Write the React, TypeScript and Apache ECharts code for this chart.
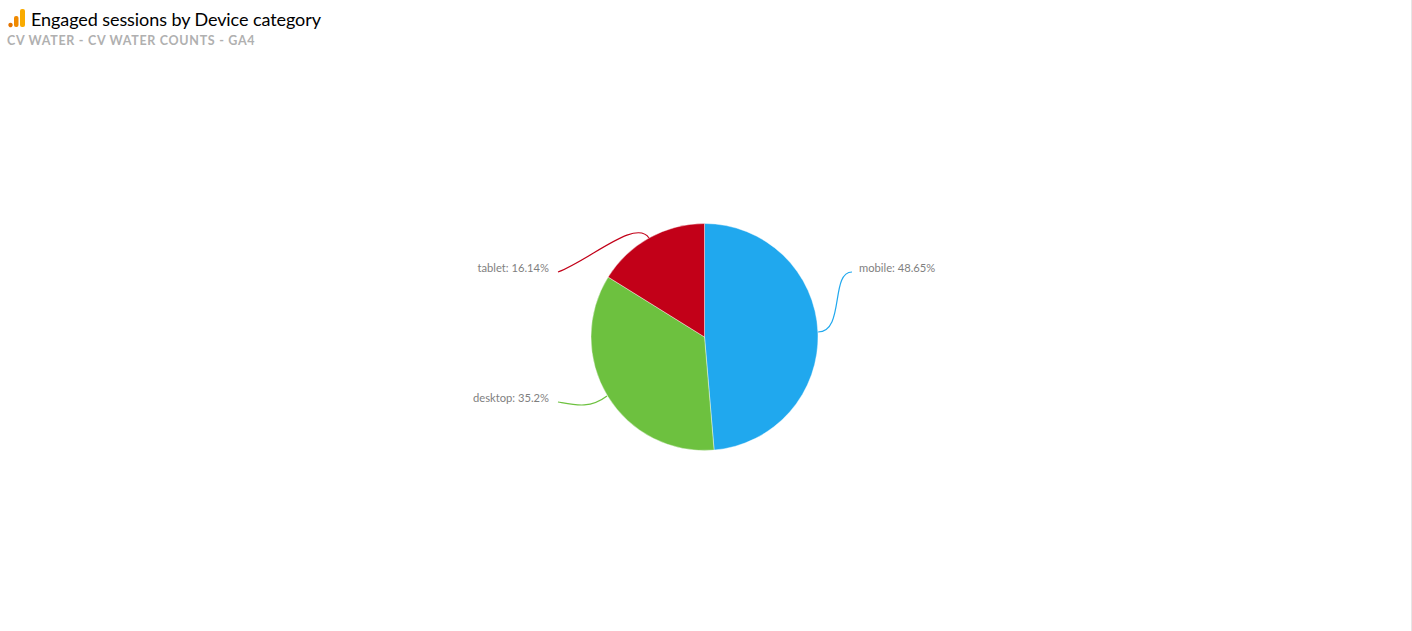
import React, { useEffect, useRef } from "react";
import * as echarts from "echarts";

const categories = ["mobile", "desktop", "tablet"];
const shares = [48.65, 35.2, 16.14];
const colors = ["#20a8ee", "#6dc13f", "#c20018"];
const titleText = "Engaged sessions by Device category";
const subtitleText = "CV WATER - CV WATER COUNTS - GA4";
const font = "Lato, 'Noto Sans', sans-serif";

const labelPlacement: Record<string, any> = {
  mobile: { x: 859, y: 267.5, align: "left" },
  desktop: { x: 549, y: 397.5, align: "right" },
  tablet: { x: 549, y: 267.5, align: "right" },
};
const leaderCurves = [
  { color: colors[0], shape: { x1: 818, y1: 332, cpx1: 845, cpy1: 332, cpx2: 830, cpy2: 272, x2: 852, y2: 272 } },
  { color: colors[1], shape: { x1: 607, y1: 396, cpx1: 590, cpy1: 409, cpx2: 575, cpy2: 405, x2: 558, y2: 402 } },
  { color: colors[2], shape: { x1: 649, y1: 238, cpx1: 636, cpy1: 218, cpx2: 590, cpy2: 260, x2: 558, y2: 272 } },
];

export default function App() {
  const ref = useRef<HTMLDivElement>(null);
  useEffect(() => {
    document.body.style.margin = "0";
    const chart = echarts.init(ref.current!, undefined, { renderer: "svg" });
    chart.setOption({
      animation: false,
      backgroundColor: "#ffffff",
      title: [
        { text: titleText, left: 31, top: 10, padding: 0, textStyle: { fontFamily: font, fontSize: 18, fontWeight: 400, color: "#000000" } },
        { text: subtitleText, left: 7, top: 34, padding: 0, textStyle: { fontFamily: font, fontSize: 12.5, fontWeight: 700, color: "#b0b0b0" } },
      ],
      graphic: [
        { type: "circle", shape: { cx: 10.5, cy: 25, r: 2.2 }, style: { fill: "#e37400" } },
        { type: "rect", shape: { x: 14, y: 16, width: 4.5, height: 11, r: 2 }, style: { fill: "#f08a00" } },
        { type: "rect", shape: { x: 20, y: 9, width: 5, height: 18, r: 2 }, style: { fill: "#f9ab00" } },
        { type: "rect", shape: { x: 1411, y: 0, width: 1, height: 631 }, style: { fill: "#e6e6e6" } },
        ...leaderCurves.map((c) => ({
          type: "bezierCurve",
          shape: c.shape,
          style: { stroke: c.color, lineWidth: 1.2, fill: "none" },
        })),
      ],
      series: [
        {
          type: "pie",
          center: [704.5, 337],
          radius: [0, 113.5],
          startAngle: 90,
          clockwise: true,
          data: categories.map((name, i) => ({ name, value: shares[i], itemStyle: { color: colors[i] } })),
          itemStyle: { borderColor: "#ffffff", borderWidth: 0.4 },
          label: {
            formatter: "{b}: {c}%",
            fontFamily: font,
            fontSize: 11.2,
            color: "#7f7f7f",
          },
          labelLine: { show: false },
          labelLayout: (params: any) => {
            const p = labelPlacement[categories[params.dataIndex]];
            return { x: p.x, y: p.y, align: p.align, verticalAlign: "middle" };
          },
        },
      ],
    });
    return () => chart.dispose();
  }, []);
  return (
    <>
      <style>{`text[fill="#b0b0b0"]{letter-spacing:0.7px} text[fill="#000000"],text[fill="#000"]{letter-spacing:-0.08px}`}</style>
      <div ref={ref} style={{ width: 1412, height: 631 }} />
    </>
  );
}
